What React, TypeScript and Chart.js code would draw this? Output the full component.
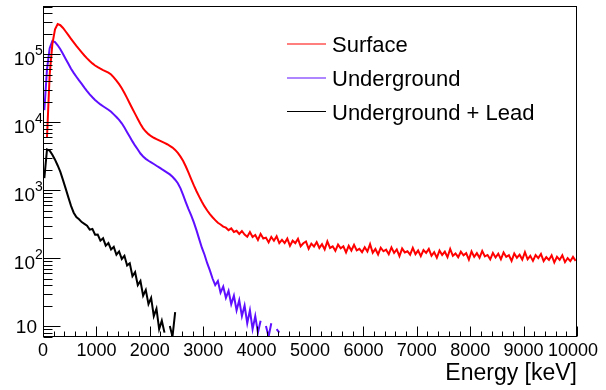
import React, { useEffect, useRef } from "react";
import { Chart, registerables } from "chart.js";

Chart.register(...registerables);

// ---------- data ----------
const BIN_WIDTH = 50; // keV per bin
const X_MIN = 0;
const X_MAX = 10000;
const Y_MIN = 6.9;
const Y_MAX = 5.1e5;

const X_TICK_LABELS = ["0", "1000", "2000", "3000", "4000", "5000", "6000", "7000", "8000", "9000", "10000"];
const Y_DECADE_EXPONENTS = [1, 2, 3, 4, 5];
const X_TITLE = "Energy [keV]";
const SERIES_NAMES = ["Surface", "Underground", "Underground + Lead"];
const SERIES_COLORS = ["#ff0000", "#5f0fff", "#000000"];

const surface = [
  0, 6000, 50000, 140000, 232000, 276000, 266000, 242000, 215000, 190000,
  168000, 149000, 132000, 118000, 106000, 95500, 86500, 79000, 73000, 68000,
  64200, 61000, 58200, 55800, 53400, 50200, 45600, 40800, 36200, 31500,
  26800, 22500, 18800, 15700, 13200, 11100, 9400, 8100, 7250, 6650,
  6200, 5880, 5620, 5380, 5150, 4930, 4720, 4480, 4220, 3900,
  3520, 3100, 2680, 2220, 1800, 1450, 1170, 960, 800, 675,
  575, 500, 442, 398, 362, 330, 312, 290, 280, 257,
  273, 242, 252, 226, 250, 222, 206, 242, 204, 218,
  185, 227, 194, 200, 170, 205, 180, 209, 166, 185,
  166, 193, 151, 180, 166, 192, 149, 165, 175, 137,
  163, 148, 172, 141, 160, 134, 176, 141, 149, 128,
  158, 139, 149, 121, 151, 129, 157, 130, 137, 122,
  144, 125, 160, 120, 136, 113, 142, 126, 133, 114,
  143, 119, 134, 107, 138, 121, 126, 112, 141, 114,
  129, 107, 131, 119, 136, 108, 122, 101, 129, 111,
  124, 103, 136, 108, 117, 103, 124, 110, 118, 95,
  125, 104, 118, 101, 127, 106, 111, 96, 119, 102,
  116, 96, 121, 104, 110, 91, 117, 101, 112, 95,
  122, 96, 108, 91, 111, 100, 115, 90, 103, 94,
  110, 86, 104, 94, 110, 87, 100, 90, 104, 91,
];

const underground = [
  15000, 60000, 122000, 156000, 150000, 135000, 118000, 100000, 85000, 72000,
  61000, 53000, 46500, 41000, 36500, 32200, 28600, 25600, 23200, 21200,
  19600, 18200, 17100, 16100, 15200, 14200, 13000, 11900, 10800, 9600,
  8300, 7100, 6100, 5200, 4500, 3950, 3450, 3120, 2880, 2700,
  2560, 2420, 2280, 2160, 2030, 1920, 1810, 1700, 1570, 1420,
  1260, 1060, 840, 660, 525, 425, 335, 255, 190, 142,
  112, 84, 66, 50, 40, 46, 31, 38, 26, 33,
  21, 28, 17, 24, 14, 20, 11, 17, 9, 14,
  8, 12, 0, 10, 7, 11, 0, 9, 8, 0,
  0, 8, 0, 7, 0, 0, 8, 0, 0, 7,
];

const undergroundLead = [
  1500, 3950, 3800, 3300, 2800, 2300, 1850, 1400, 1050, 780,
  585, 465, 400, 372, 338, 318, 300, 262, 268, 220,
  222, 180, 195, 152, 166, 134, 146, 112, 125, 97,
  108, 78, 84, 54, 62, 40, 46, 28, 34, 21,
  26, 14, 18, 9, 12, 8, 0, 10, 7, 16,
  0, 9, 0, 7,
];

const SERIES = [surface, underground, undergroundLead];

// points at bin centres
function toPoints(values: number[]) {
  return values.map((v, i) => ({ x: X_MIN + (i + 0.5) * BIN_WIDTH, y: v }));
}

const FONT = '"Liberation Sans", Arial, Helvetica, sans-serif';

const rootAxesPlugin = {
  id: "rootAxes",
  afterDatasetsDraw(chart: any) {
    const { ctx, chartArea, scales } = chart;
    const { left, right, top, bottom } = chartArea;
    const xs = scales.x;
    const ys = scales.y;
    ctx.save();
    ctx.strokeStyle = "#000";
    ctx.fillStyle = "#000";
    ctx.lineWidth = 1;

    // frame
    ctx.strokeRect(Math.round(left) + 0.5, Math.round(top) + 0.5, Math.round(right - left) - 1, Math.round(bottom - top) - 1);

    const bx = Math.round(bottom) - 0.5;
    const lx = Math.round(left) + 0.5;

    ctx.beginPath();
    // x ticks (inside)
    for (let v = X_MIN; v <= X_MAX; v += 200) {
      const px = Math.round(xs.getPixelForValue(v)) + 0.5;
      const len = v % 1000 === 0 ? 10 : 5;
      ctx.moveTo(px, bx);
      ctx.lineTo(px, bx - len);
    }
    // y ticks (inside)
    for (let e = 0; e <= 6; e++) {
      for (let m = 1; m <= 9; m++) {
        const v = m * Math.pow(10, e);
        if (v < Y_MIN || v > Y_MAX) continue;
        const py = Math.round(ys.getPixelForValue(v)) + 0.5;
        const len = m === 1 ? 17 : 9;
        ctx.moveTo(lx, py);
        ctx.lineTo(lx + len, py);
      }
    }
    ctx.stroke();

    // x tick labels
    ctx.font = `18px ${FONT}`;
    ctx.textBaseline = "alphabetic";
    ctx.textAlign = "center";
    X_TICK_LABELS.forEach((lab) => {
      const v = Number(lab);
      const px = xs.getPixelForValue(v);
      const w = ctx.measureText(lab).width;
      let cx = px;
      if (cx + w / 2 > chart.width - 8) cx = chart.width - 8 - w / 2;
      ctx.fillText(lab, cx, 356);
    });

    // y tick labels
    Y_DECADE_EXPONENTS.forEach((e) => {
      const py = ys.getPixelForValue(Math.pow(10, e));
      if (e === 1) {
        ctx.font = `19px ${FONT}`;
        ctx.textAlign = "right";
        ctx.fillText("10", 37, py + 7);
      } else {
        ctx.font = `19px ${FONT}`;
        ctx.textAlign = "right";
        ctx.fillText("10", 35, py + 10.5);
        ctx.font = `14px ${FONT}`;
        ctx.textAlign = "left";
        ctx.fillText(String(e), 35, py + 0.5);
      }
    });

    // x title
    ctx.font = `23px ${FONT}`;
    ctx.textAlign = "right";
    ctx.fillText(X_TITLE, right, 380);

    // legend
    const legendYs = [44, 78, 111.5];
    ctx.font = `22px ${FONT}`;
    ctx.textAlign = "left";
    SERIES_NAMES.forEach((name, i) => {
      const y = legendYs[i];
      ctx.strokeStyle = SERIES_COLORS[i];
      ctx.lineWidth = 1.2;
      ctx.beginPath();
      ctx.moveTo(287, y);
      ctx.lineTo(326, y);
      ctx.stroke();
      ctx.fillStyle = "#000";
      ctx.fillText(name, 332, y + 8);
    });

    ctx.restore();
  },
};

export default function App() {
  const canvasRef = useRef<HTMLCanvasElement | null>(null);

  useEffect(() => {
    document.body.style.margin = "0";
    const canvas = canvasRef.current;
    if (!canvas) return;
    const chart = new Chart(canvas, {
      type: "line",
      data: {
        datasets: SERIES.map((values, i) => ({
          label: SERIES_NAMES[i],
          data: toPoints(values),
          borderColor: SERIES_COLORS[i],
          borderWidth: 2,
          pointRadius: 0,
          fill: false,
          tension: 0,
        })),
      },
      options: {
        animation: false,
        responsive: false,
        maintainAspectRatio: false,
        events: [],
        layout: { padding: { left: 43, right: 29, top: 6, bottom: 53 } },
        plugins: { legend: { display: false }, tooltip: { enabled: false } },
        scales: {
          x: { type: "linear", min: X_MIN, max: X_MAX, display: false },
          y: { type: "logarithmic", min: Y_MIN, max: Y_MAX, display: false },
        },
      },
      plugins: [rootAxesPlugin],
    } as any);
    return () => chart.destroy();
  }, []);

  return (
    <div style={{ width: 606, height: 390, background: "#fff" }}>
      <canvas ref={canvasRef} width={606} height={390} style={{ display: "block" }} />
    </div>
  );
}
